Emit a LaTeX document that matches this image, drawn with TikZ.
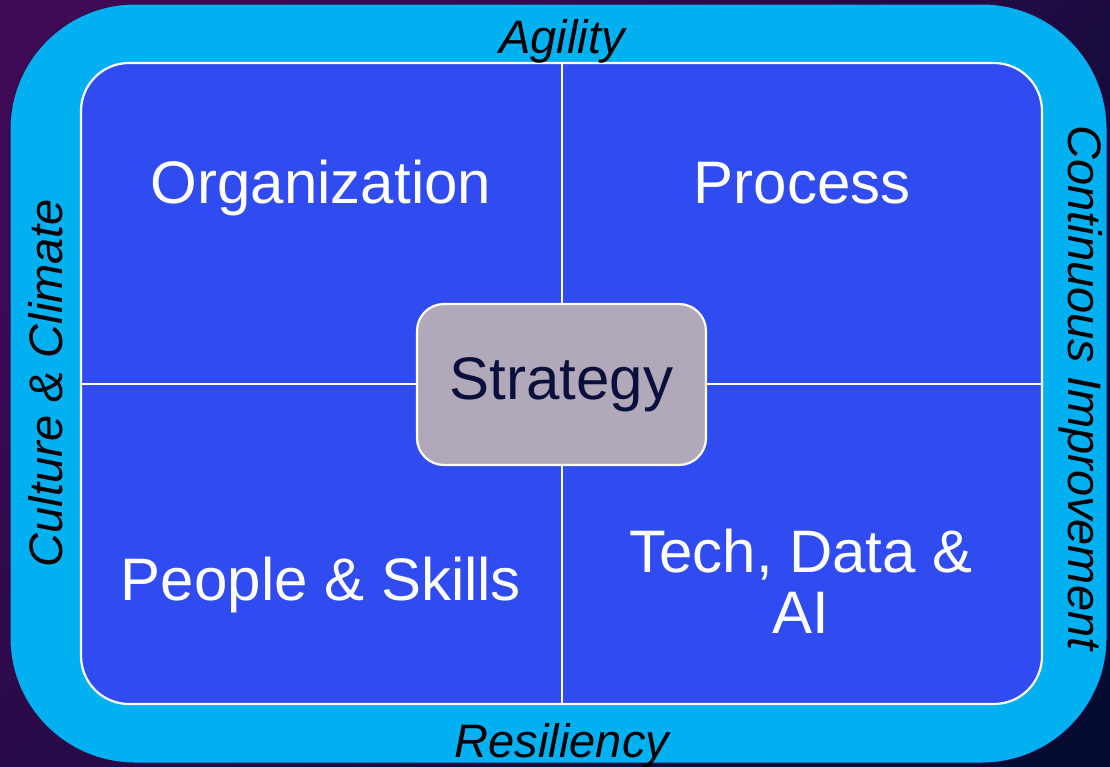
\documentclass[tikz,border=0pt]{standalone}
\usepackage{fontspec}
\setmainfont{Liberation Sans}
\usepackage{tikz}
\usetikzlibrary{positioning}

\definecolor{bgtop}{HTML}{3E0A56}
\definecolor{bgbot}{HTML}{060B32}
\definecolor{ringcyan}{HTML}{00B0F0}
\definecolor{coreblue}{HTML}{304CF0}
\definecolor{hubgrey}{HTML}{B1A9B9}
\definecolor{hubtext}{HTML}{0B0F3C}

\tikzset{
  ringbox/.style={draw=bgtop!80!black,line width=1pt,fill=ringcyan,rounded corners=125pt,minimum width=1097pt,minimum height=759pt},
  corebox/.style={draw=white,line width=2.2pt,fill=coreblue,rounded corners=48pt,minimum width=961pt,minimum height=641pt},
  hubbox/.style={draw=white,line width=2.2pt,fill=hubgrey,rounded corners=27pt,minimum width=289pt,minimum height=161pt,
    text=hubtext,font=\fontsize{60}{62}\selectfont},
  divider/.style={white,line width=2pt},
  quadlabel/.style={text=white,anchor=base,align=center,font=\fontsize{60}{61}\selectfont},
  ringlabel/.style={text=black,anchor=base,font=\fontsize{47}{50}\selectfont\itshape}
}

\begin{document}
\begin{tikzpicture}[x=1pt,y=-1pt]
	\useasboundingbox (0,0) rectangle (1110,766);
	\fill[top color=bgtop,bottom color=bgbot,shading angle=45] (0,0) rectangle (1110,766);
	% frame
	\node[ringbox] (ring) at (558.5,383.5) {};
	\node[corebox] (core) at (561.5,383.5) {};
	\draw[divider] (core.north) -- (core.south);
	\draw[divider] (core.west) -- (core.east);
	\node[hubbox] (hub) at (561.5,384.5) {Strategy};
	% quadrants
	\node[quadlabel] (org) at (321,203) {Organization};
	\node[quadlabel] (proc) at (802,203) {Process};
	\node[quadlabel] (people) at (321,600) {People \& Skills};
	\node[quadlabel,anchor=center] (tech) at (801,581) {Tech, Data \&\\AI};
	% ring
	\node[ringlabel] (agil) at (562,53) {Agility};
	\node[ringlabel] (resil) at (562,757) {Resiliency};
	\node[ringlabel,rotate=90] (cult) at (62,383) {Culture \& Climate};
	\node[ringlabel,rotate=-90] (cont) at (1068,388) {Continuous Improvement};
\end{tikzpicture}
\end{document}
